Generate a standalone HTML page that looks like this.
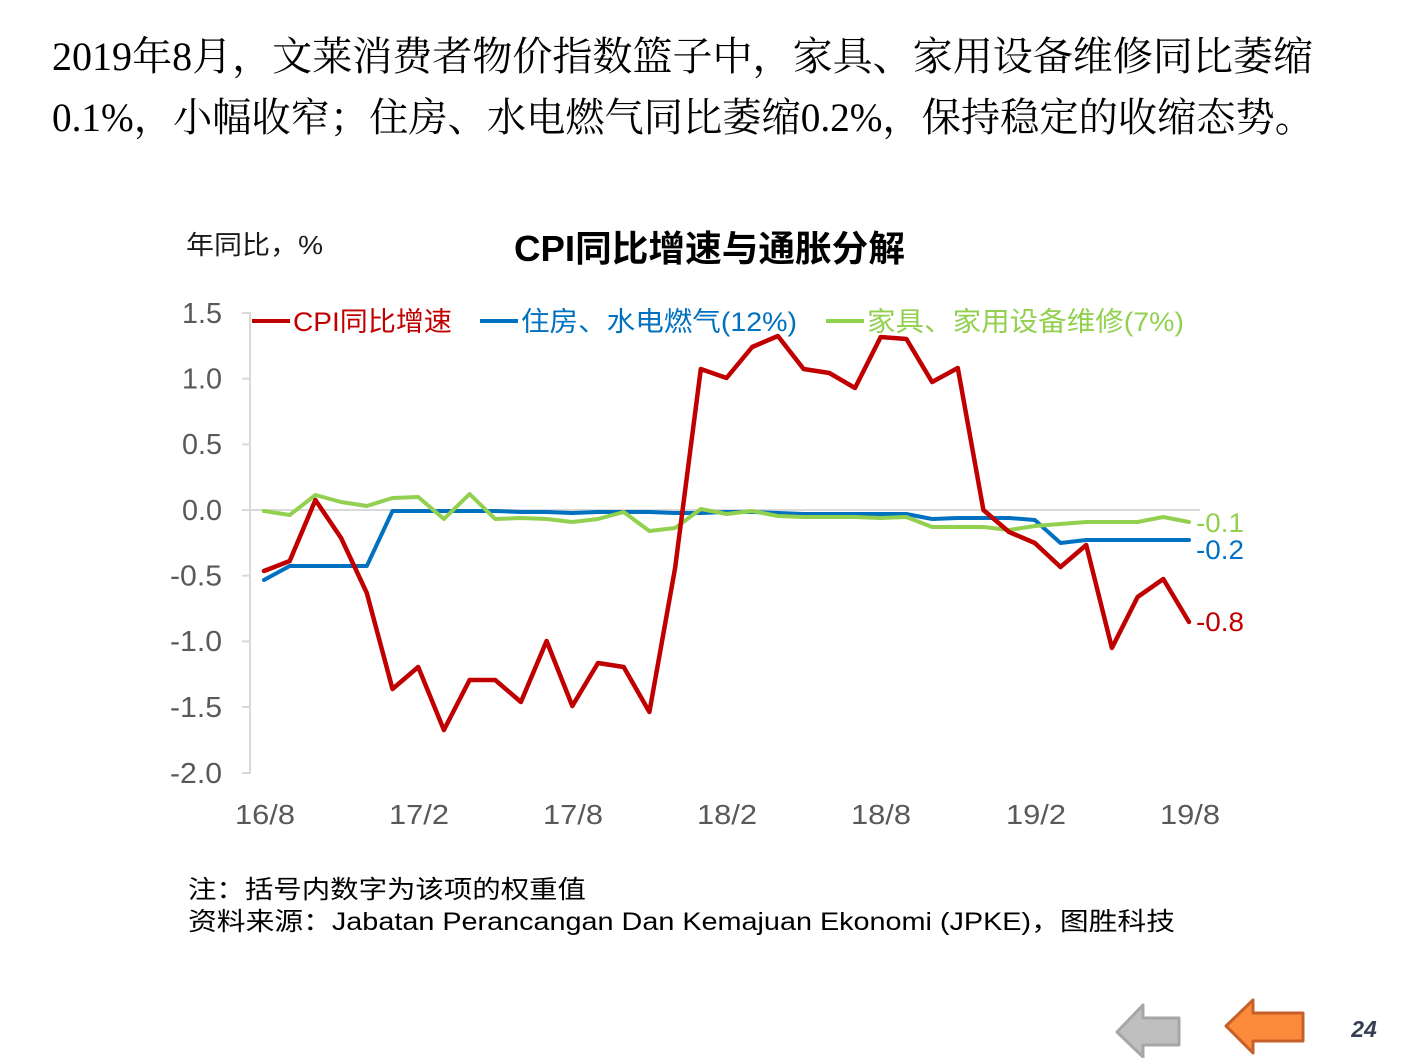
<!DOCTYPE html>
<html><head><meta charset="utf-8"><style>
html,body{margin:0;padding:0;background:#fff;}
svg{display:block;}
</style></head><body>
<svg width="1411" height="1058" viewBox="0 0 1411 1058" xmlns="http://www.w3.org/2000/svg">
<rect width="1411" height="1058" fill="#fff"/>
<!-- header -->
<g font-family="'Liberation Serif','Noto Serif CJK SC',serif" font-size="40" fill="#000">
<text x="52" y="70" textLength="1261" lengthAdjust="spacingAndGlyphs">2019年8月，文莱消费者物价指数篮子中，家具、家用设备维修同比萎缩</text>
<text x="52" y="131" textLength="1262" lengthAdjust="spacingAndGlyphs">0.1%，小幅收窄；住房、水电燃气同比萎缩0.2%，保持稳定的收缩态势。</text>
</g>
<!-- chart title -->
<text x="514" y="261" font-family="'Liberation Sans','Noto Sans CJK SC',sans-serif" font-weight="bold" font-size="36" fill="#000" textLength="391" lengthAdjust="spacingAndGlyphs">CPI同比增速与通胀分解</text>
<text x="186" y="254" font-family="'Liberation Sans','Noto Sans CJK SC',sans-serif" font-size="26" fill="#1a1a1a" textLength="137" lengthAdjust="spacingAndGlyphs">年同比，%</text>

<!-- axes -->
<g stroke="#d9d9d9" stroke-width="2" fill="none">
<line x1="250" y1="312" x2="250" y2="774"/>
<line x1="242" y1="313" x2="250" y2="313"/>
<line x1="242" y1="378.7" x2="250" y2="378.7"/>
<line x1="242" y1="444.4" x2="250" y2="444.4"/>
<line x1="242" y1="510" x2="250" y2="510"/>
<line x1="242" y1="575.7" x2="250" y2="575.7"/>
<line x1="242" y1="641.4" x2="250" y2="641.4"/>
<line x1="242" y1="707" x2="250" y2="707"/>
<line x1="242" y1="773" x2="250" y2="773"/>
<line x1="250" y1="510" x2="1200" y2="510"/>
</g>
<g font-family="'Liberation Sans','Noto Sans CJK SC',sans-serif" font-size="28.5" fill="#595959">
<text x="182" y="323" textLength="40" lengthAdjust="spacingAndGlyphs">1.5</text>
<text x="182" y="388.5" textLength="40" lengthAdjust="spacingAndGlyphs">1.0</text>
<text x="182" y="454" textLength="40" lengthAdjust="spacingAndGlyphs">0.5</text>
<text x="182" y="520" textLength="40" lengthAdjust="spacingAndGlyphs">0.0</text>
<text x="170" y="585.5" textLength="52" lengthAdjust="spacingAndGlyphs">-0.5</text>
<text x="170" y="651" textLength="52" lengthAdjust="spacingAndGlyphs">-1.0</text>
<text x="170" y="717" textLength="52" lengthAdjust="spacingAndGlyphs">-1.5</text>
<text x="170" y="783" textLength="52" lengthAdjust="spacingAndGlyphs">-2.0</text>
</g>
<g font-family="'Liberation Sans','Noto Sans CJK SC',sans-serif" font-size="28" fill="#595959">
<text x="235" y="824" textLength="60" lengthAdjust="spacingAndGlyphs">16/8</text>
<text x="389" y="824" textLength="60" lengthAdjust="spacingAndGlyphs">17/2</text>
<text x="543" y="824" textLength="60" lengthAdjust="spacingAndGlyphs">17/8</text>
<text x="697" y="824" textLength="60" lengthAdjust="spacingAndGlyphs">18/2</text>
<text x="851" y="824" textLength="60" lengthAdjust="spacingAndGlyphs">18/8</text>
<text x="1006" y="824" textLength="60" lengthAdjust="spacingAndGlyphs">19/2</text>
<text x="1160" y="824" textLength="60" lengthAdjust="spacingAndGlyphs">19/8</text>
</g>

<!-- legend -->
<g stroke-width="4">
<line x1="252" y1="321" x2="290" y2="321" stroke="#c00000"/>
<line x1="480" y1="321" x2="518" y2="321" stroke="#0070c0"/>
<line x1="826" y1="321" x2="864" y2="321" stroke="#92d050"/>
</g>
<g font-family="'Liberation Sans','Noto Sans CJK SC',sans-serif" font-size="27">
<text x="293" y="331" fill="#c00000" textLength="159" lengthAdjust="spacingAndGlyphs">CPI同比增速</text>
<text x="521" y="331" fill="#0070c0" textLength="276" lengthAdjust="spacingAndGlyphs">住房、水电燃气(12%)</text>
<text x="867" y="331" fill="#92d050" textLength="317" lengthAdjust="spacingAndGlyphs">家具、家用设备维修(7%)</text>
</g>

<!-- series -->
<g fill="none" stroke-width="4" stroke-linejoin="round" stroke-linecap="round">
<polyline stroke="#0070c0" points="264,580 289.7,566 315.4,566 341.1,566 366.8,566 392.5,511 418.2,511 443.9,511 469.6,511 495.2,511 520.9,512 546.6,512 572.3,513 598,512 623.7,512 649.4,512 675.1,513 700.8,513 726.5,512 752.2,512 777.9,513 803.6,514 829.3,514 855,514 880.7,514 906.4,514 932.1,519 957.8,518 983.4,518 1009.1,518 1034.8,520 1060.5,543 1086.2,540 1111.9,540 1137.6,540 1163.3,540 1189,540"/>
<polyline stroke="#92d050" points="264,511 289.7,515 315.4,495 341.1,502 366.8,506 392.5,498 418.2,497 443.9,519 469.6,494 495.2,519 520.9,518 546.6,519 572.3,522 598,519 623.7,512 649.4,531 675.1,528 700.8,509 726.5,514 752.2,511 777.9,516 803.6,517 829.3,517 855,517 880.7,518 906.4,517 932.1,527 957.8,527 983.4,527 1009.1,530 1034.8,526 1060.5,524 1086.2,522 1111.9,522 1137.6,522 1163.3,517 1189,522"/>
<polyline stroke="#c00000" stroke-width="4.5" points="264,571 289.7,561 315.4,500 341.1,538 366.8,593 392.5,689 418.2,667 443.9,730 469.6,680 495.2,680 520.9,702 546.6,641 572.3,706 598,663 623.7,667 649.4,712 675.1,568 700.8,369 726.5,378 752.2,347 777.9,336 803.6,369 829.3,373 855,388 880.7,337 906.4,339 932.1,382 957.8,368 983.4,510 1009.1,532 1034.8,543 1060.5,567 1086.2,545 1111.9,648 1137.6,597 1163.3,579 1189,622"/>
</g>
<g font-family="'Liberation Sans','Noto Sans CJK SC',sans-serif" font-size="27">
<text x="1196" y="532" fill="#92d050" textLength="48" lengthAdjust="spacingAndGlyphs">-0.1</text>
<text x="1196" y="559" fill="#0070c0" textLength="48" lengthAdjust="spacingAndGlyphs">-0.2</text>
<text x="1196" y="631" fill="#c00000" textLength="48" lengthAdjust="spacingAndGlyphs">-0.8</text>
</g>

<!-- footnote -->
<g font-family="'Liberation Sans','Noto Sans CJK SC',sans-serif" font-size="25" fill="#000">
<text x="188" y="898" textLength="398" lengthAdjust="spacingAndGlyphs">注：括号内数字为该项的权重值</text>
<text x="188" y="930" textLength="987" lengthAdjust="spacingAndGlyphs">资料来源：Jabatan Perancangan Dan Kemajuan Ekonomi (JPKE)，图胜科技</text>
</g>

<!-- nav arrows -->
<polygon points="1117,1032 1143,1005 1143,1018 1179,1018 1179,1045 1143,1045 1143,1057" fill="#bfbfbf" stroke="#a6a6a6" stroke-width="3" stroke-linejoin="round"/>
<polygon points="1226,1026 1253,1000 1253,1013 1303,1013 1303,1041 1253,1041 1253,1053" fill="#fb8b3a" stroke="#c5602a" stroke-width="3" stroke-linejoin="round"/>
<text x="1364" y="1037" text-anchor="middle" font-family="'Liberation Sans',sans-serif" font-weight="bold" font-style="italic" font-size="23" fill="#333f50">24</text>
</svg>
</body></html>
